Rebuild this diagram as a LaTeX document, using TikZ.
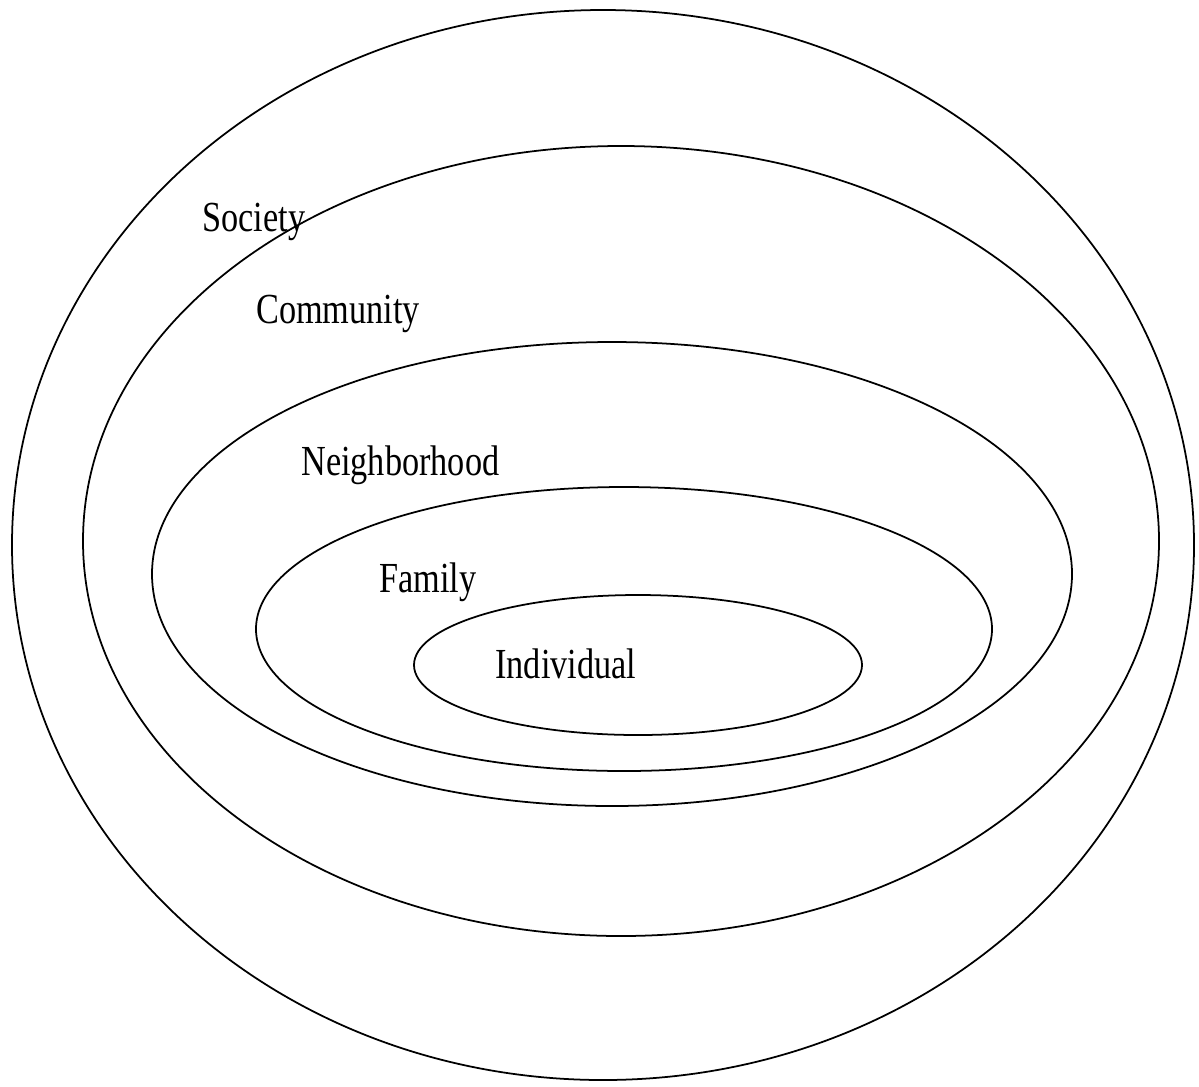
\documentclass[tikz,border=0pt]{standalone}
\usepackage{fontspec}
\setmainfont{Liberation Serif}
\usepackage{graphicx}
\usepackage{tikz}
\newcommand{\tallword}[1]{\scalebox{1}[1.25]{#1}}

\begin{document}
\begin{tikzpicture}[
  x=0.02cm, y=-0.02cm,
  ring/.style={draw=black, line width=1pt},
  lbl/.style={anchor=base west, inner sep=0pt, font=\fontsize{19.5}{23}\selectfont}]

  \useasboundingbox (0,0) rectangle (1199,1086);

  \draw[ring] (603,545) ellipse [x radius=591, y radius=535];
  \draw[ring] (621,541) ellipse [x radius=538, y radius=395];
  \draw[ring] (612,574) ellipse [x radius=460, y radius=232];
  \draw[ring] (624,629) ellipse [x radius=368, y radius=142];
  \draw[ring] (638,665) ellipse [x radius=224, y radius=70];

  \node[lbl] (society) at (202,231) {\tallword{Society}};
  \node[lbl] (community) at (256,323) {\tallword{Community}};
  \node[lbl] (neighborhood) at (301,475) {\tallword{Neighborhood}};
  \node[lbl] (family) at (379,592) {\tallword{Family}};
  \node[lbl] (individual) at (495,678) {\tallword{Individual}};
\end{tikzpicture}
\end{document}
